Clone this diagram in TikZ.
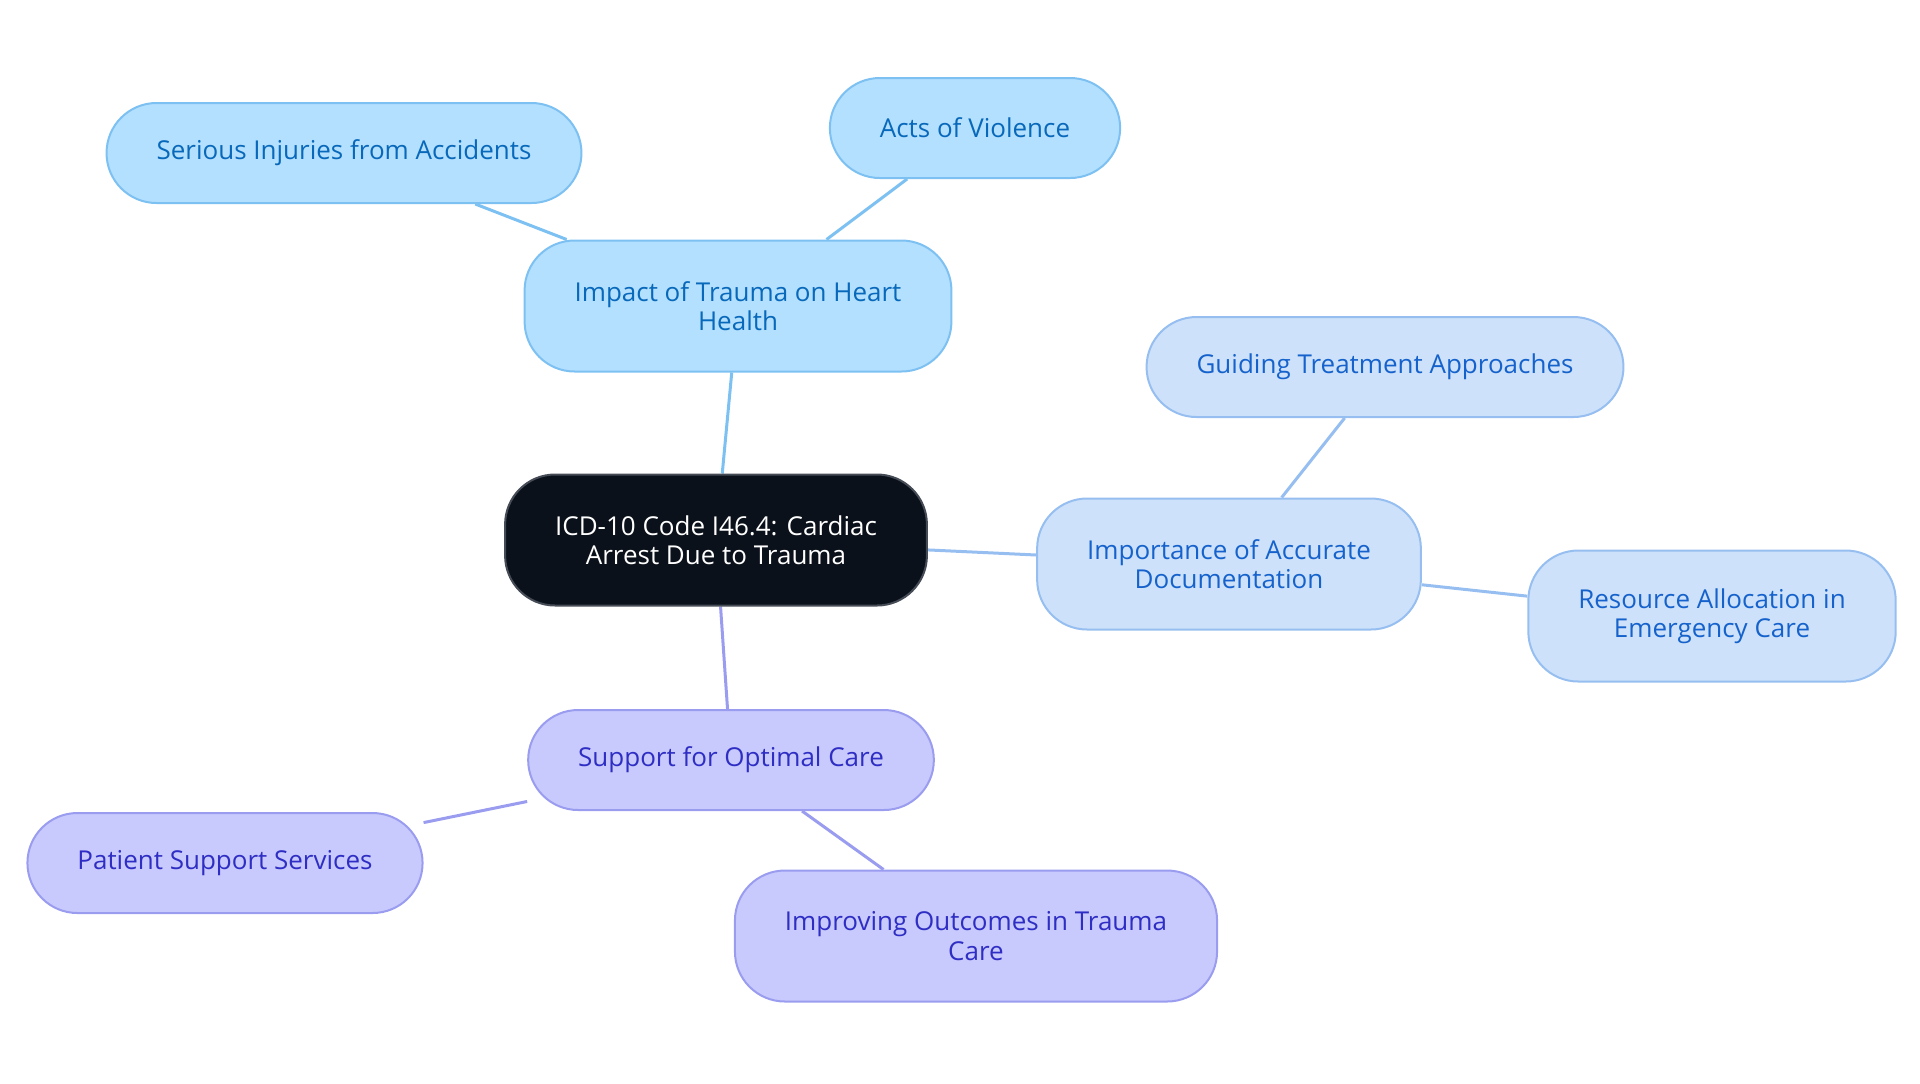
\documentclass[tikz,border=0pt]{standalone}
\usepackage{fontspec}
\setmainfont{Open Sans}
\usepackage{tikz}
\usetikzlibrary{backgrounds}
\definecolor{RootInk}{RGB}{11,17,26}
\definecolor{RootEdge}{RGB}{70,76,86}
\definecolor{SkyFill}{RGB}{180,224,255}
\definecolor{SkyEdge}{RGB}{125,192,242}
\definecolor{SkyText}{RGB}{8,104,186}
\definecolor{IceFill}{RGB}{205,226,250}
\definecolor{IceEdge}{RGB}{150,190,240}
\definecolor{IceText}{RGB}{22,98,204}
\definecolor{LilacFill}{RGB}{200,201,252}
\definecolor{LilacEdge}{RGB}{154,156,240}
\definecolor{LilacText}{RGB}{46,46,196}
\tikzset{
  mbox/.style      ={rectangle, rounded corners=25pt, line width=1pt, align=center,
                     font=\fontsize{13}{14.7}\selectfont, inner xsep=25pt, inner ysep=8pt,
                     minimum height=50pt},
  twoline/.style   ={minimum height=65.5pt},
  mboxdark/.style  ={mbox, fill=RootInk, draw=RootEdge, text=white},
  mboxsky/.style   ={mbox, fill=SkyFill, draw=SkyEdge, text=SkyText},
  mboxice/.style   ={mbox, fill=IceFill, draw=IceEdge, text=IceText},
  mboxlilac/.style ={mbox, fill=LilacFill, draw=LilacEdge, text=LilacText},
  lnk/.style       ={line width=1.5pt},
}

\begin{document}
\begin{tikzpicture}[x=0.5pt,y=-0.5pt]
  \useasboundingbox (0,0) rectangle (1920,1083);

  \node[mboxdark,twoline] (root) at (716,540) {ICD-10 Code I46.4: Cardiac\\Arrest Due to Trauma};

  \node[mboxsky,twoline] (impact) at (738,306) {Impact of Trauma on Heart\\Health};
  \node[mboxsky] (injury)   at (344,153) {Serious Injuries from Accidents};
  \node[mboxsky] (violence) at (975,128) {Acts of Violence};

  \node[mboxice,twoline] (docs)     at (1229,564) {Importance of Accurate\\Documentation};
  \node[mboxice]         (guiding)  at (1385,367) {Guiding Treatment Approaches};
  \node[mboxice,twoline] (resource) at (1712,616) {Resource Allocation in\\Emergency Care};

  \node[mboxlilac]         (support)  at (731,760) {Support for Optimal Care};
  \node[mboxlilac]         (patient)  at (225,863) {Patient Support Services};
  \node[mboxlilac,twoline] (outcomes) at (976,936) {Improving Outcomes in Trauma\\Care};

  \begin{scope}[on background layer]
    \draw[lnk, SkyEdge]   (root) -- (impact);
    \draw[lnk, SkyEdge]   (impact) -- (injury);
    \draw[lnk, SkyEdge]   (impact) -- (violence);
    \draw[lnk, IceEdge]   (root) -- (docs);
    \draw[lnk, IceEdge]   (docs) -- (guiding);
    \draw[lnk, IceEdge]   (docs) -- (resource);
    \draw[lnk, LilacEdge] (root) -- (support);
    \draw[lnk, LilacEdge] (support) -- (patient);
    \draw[lnk, LilacEdge] (support) -- (outcomes);
  \end{scope}
\end{tikzpicture}
\end{document}
